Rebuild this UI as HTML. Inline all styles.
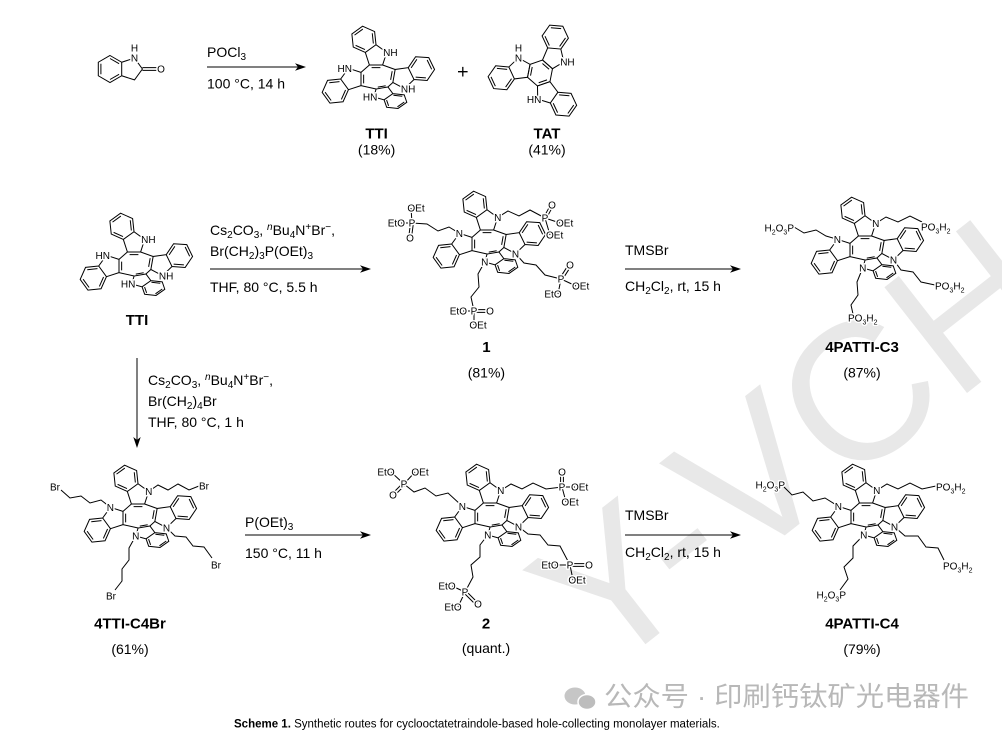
<!DOCTYPE html>
<html><head><meta charset="utf-8">
<style>
html,body{margin:0;padding:0;background:#fff;width:1002px;height:738px;overflow:hidden;}
svg{display:block;overflow:hidden;}
.t{font-family:"Liberation Sans",Arial,sans-serif;font-size:14px;fill:#000;}
.nm{font-family:"Liberation Sans",Arial,sans-serif;font-size:15px;font-weight:bold;fill:#000;}
.l{font-family:"Liberation Sans",Arial,sans-serif;font-size:10px;fill:#000;stroke:#fff;stroke-width:3px;paint-order:stroke;stroke-linejoin:round;}
.bd{stroke:#000;stroke-width:1;fill:none;}
</style></head>
<body>
<svg width="1002" height="738" viewBox="0 0 1002 738" xmlns="http://www.w3.org/2000/svg">
<defs>
<clipPath id="pg"><rect x="0" y="0" width="1002" height="738"/></clipPath>
<g id="ind">
<path vector-effect="non-scaling-stroke" stroke="#000" stroke-width="1" fill="none" d="M-6,0 L6,0 L9.71,-11.41 L0,-18.47 L-9.71,-11.41 Z M0,-18.47 L-1.26,-30.41 L-12.23,-35.29 L-21.94,-28.24 L-20.68,-16.3 L-9.71,-11.41 M-2.41,-19.54 L-3.4,-28.86 M-11.95,-32.66 L-19.53,-27.16 M-18.54,-17.85 L-9.99,-14.04 M-4,2.4 L4,2.4"/>
</g>
<g id="core">
<use href="#ind" transform="translate(0,-14) scale(1.1)"/>
<use href="#ind" transform="translate(18,-3) rotate(100) scale(1.1)"/>
<use href="#ind" transform="translate(6,9) rotate(170) scale(1,0.65)"/>
<use href="#ind" transform="translate(-15,0) rotate(270) scale(1.1)"/>
<path class="bd" d="M6.6,-14 L19.15,-9.5 M16.85,3.5 L11.9,7.96 M0.1,10.04 L-15,6.6 M-15,-6.6 L-6.6,-14"/>
</g>
</defs>

<g clip-path="url(#pg)">
<!-- watermark -->
<text x="601.4" y="678.6" transform="rotate(-38 601.4 678.6)" font-family="Liberation Sans, Arial, sans-serif" font-size="195" fill="#e8e8e8">Y-VCH</text>

<!-- ===== Row 1 ===== -->
<path class="bd" d="M110,55.5 L121.7,62.25 L121.7,75.75 L110,82.5 L98.3,75.75 L98.3,62.25 Z M110,58.5 L119.1,63.7 M119.1,74.3 L110,79.5 M100.9,74.3 L100.9,63.7 M121.7,62.25 L134.5,58.1 L142.4,69 L134.5,79.9 L121.7,75.75 M142.4,67.6 L157,67.6 M142.4,70.4 L157,70.4"/>
<text class="l" x="134.5" y="61.7" text-anchor="middle">N</text>
<text class="l" x="134.5" y="51.6" text-anchor="middle">H</text>
<text class="l" x="161" y="72.6" text-anchor="middle">O</text>

<text class="t" x="207" y="57">POCl<tspan font-size="10" baseline-shift="-3">3</tspan></text>
<line class="bd" x1="207" y1="67" x2="298" y2="67"/>
<polygon points="306,67 295,63.3 298,67 295,70.7" fill="#000"/>
<text class="t" x="207" y="88.5">100 °C, 14 h</text>

<!-- TTI row1 -->
<use href="#core" transform="translate(376,79)"/>
<text class="l" x="383.1" y="56">NH</text>
<text class="l" x="352" y="71.9" text-anchor="end">HN</text>
<text class="l" x="400.9" y="92.3">NH</text>
<text class="l" x="377.3" y="100.6" text-anchor="end">HN</text>
<text class="nm" x="376.6" y="138.5" text-anchor="middle">TTI</text>
<text class="t" x="376.6" y="154.5" text-anchor="middle">(18%)</text>

<path d="M458,71.7 L467.6,71.7 M462.8,66.9 L462.8,76.5" stroke="#000" stroke-width="1.3"/>

<!-- TAT -->
<g transform="translate(540,73)">
<path class="bd" d="M2.52,-12.96 L12.48,-4.3 L9.96,8.66 L-2.52,12.96 L-12.48,4.3 L-9.96,-8.66 Z"/>
<use href="#ind" transform="translate(7.5,-8.63) rotate(41) scale(1.1)"/>
<use href="#ind" transform="translate(3.72,10.81) rotate(161) scale(1.1)"/>
<use href="#ind" transform="translate(-11.22,-2.18) rotate(281) scale(1.1)"/>
</g>
<text class="l" x="560.2" y="65.5">NH</text>
<text class="l" x="541.3" y="102.8" text-anchor="end">HN</text>
<text class="l" x="518.5" y="61.5" text-anchor="middle">N</text>
<text class="l" x="518.5" y="51.5" text-anchor="middle">H</text>
<text class="nm" x="547" y="138.5" text-anchor="middle">TAT</text>
<text class="t" x="547" y="154.5" text-anchor="middle">(41%)</text>

<!-- ===== Row 2 ===== -->
<use href="#core" transform="translate(134,266)"/>
<text class="l" x="141.1" y="243">NH</text>
<text class="l" x="110" y="258.9" text-anchor="end">HN</text>
<text class="l" x="158.9" y="279.3">NH</text>
<text class="l" x="135.3" y="287.6" text-anchor="end">HN</text>
<text class="nm" x="137" y="325" text-anchor="middle">TTI</text>

<text class="t" x="210" y="235">Cs<tspan font-size="10" baseline-shift="-3">2</tspan>CO<tspan font-size="10" baseline-shift="-3">3</tspan>, <tspan font-size="10" font-style="italic" baseline-shift="5">n</tspan>Bu<tspan font-size="10" baseline-shift="-3">4</tspan>N<tspan font-size="10" baseline-shift="5">+</tspan>Br<tspan font-size="10" baseline-shift="5">−</tspan>,</text>
<text class="t" x="210" y="256">Br(CH<tspan font-size="10" baseline-shift="-3">2</tspan>)<tspan font-size="10" baseline-shift="-3">3</tspan>P(OEt)<tspan font-size="10" baseline-shift="-3">3</tspan></text>
<line class="bd" x1="210" y1="269" x2="363" y2="269"/>
<polygon points="371,269 360,265.3 363,269 360,272.7" fill="#000"/>
<text class="t" x="210" y="292">THF, 80 °C, 5.5 h</text>

<!-- compound 1 -->
<use href="#core" transform="translate(487,244)"/>
<path class="bd" d="M497.7,217.4 L508,211 L519,216 L530,210 L545,218 M543.8,217.3 L550.8,204.3 M546.2,218.7 L553.2,205.7 M545,218 L560,223 M545,218 L550,235"/>
<path class="bd" d="M459.4,233.3 L449,227 L438,231 L427,224 L412,223 M412,223 L401,223 M412,223 L411,208 M410.6,222.8 L408.6,237.8 M413.4,223.2 L411.4,238.2"/>
<path class="bd" d="M515.5,253.7 L524,263 L536,265 L545,275 L561,279 M559.8,278.2 L568.8,264.2 M562.2,279.8 L571.2,265.8 M561,279 L576,286 M561,279 L558,294"/>
<path class="bd" d="M484.7,262 L478,274 L479,287 L471,297 L474,311 M474,311 L463,311 M474,309.6 L489,309.6 M474,312.4 L489,312.4 M474,311 L474,325"/>
<text class="l" x="497.7" y="221" text-anchor="middle">N</text>
<text class="l" x="459.4" y="236.9" text-anchor="middle">N</text>
<text class="l" x="515.5" y="257.3" text-anchor="middle">N</text>
<text class="l" x="484.7" y="265.6" text-anchor="middle">N</text>
<text class="l" x="545" y="221.6" text-anchor="middle">P</text>
<text class="l" x="552" y="208.6" text-anchor="middle">O</text>
<text class="l" x="556" y="226.6">OEt</text>
<text class="l" x="546" y="238.6">OEt</text>
<text class="l" x="412" y="226.6" text-anchor="middle">P</text>
<text class="l" x="405" y="226.6" text-anchor="end">EtO</text>
<text class="l" x="416" y="211.6" text-anchor="middle">OEt</text>
<text class="l" x="410" y="241.6" text-anchor="middle">O</text>
<text class="l" x="561" y="282.6" text-anchor="middle">P</text>
<text class="l" x="570" y="268.6" text-anchor="middle">O</text>
<text class="l" x="572" y="289.6">OEt</text>
<text class="l" x="553" y="297.6" text-anchor="middle">EtO</text>
<text class="l" x="474" y="314.6" text-anchor="middle">P</text>
<text class="l" x="467" y="314.6" text-anchor="end">EtO</text>
<text class="l" x="490" y="314.6" text-anchor="middle">O</text>
<text class="l" x="478" y="328.6" text-anchor="middle">OEt</text>
<text class="nm" x="486.4" y="352" text-anchor="middle">1</text>
<text class="t" x="486.4" y="377.5" text-anchor="middle">(81%)</text>

<text class="t" x="625" y="255">TMSBr</text>
<line class="bd" x1="625" y1="269" x2="733" y2="269"/>
<polygon points="741,269 730,265.3 733,269 730,272.7" fill="#000"/>
<text class="t" x="625" y="291">CH<tspan font-size="10" baseline-shift="-3">2</tspan>Cl<tspan font-size="10" baseline-shift="-3">2</tspan>, rt, 15 h</text>

<!-- 4PATTI-C3 -->
<use href="#core" transform="translate(865,250)"/>
<path class="bd" d="M875.7,223.4 L886,217 L898,222 L910,216 L922,222 M837.4,239.3 L826,236 L816,230 L804,233 L794,227 M893.5,259.7 L901,270 L913,272 L921,282 L935,285 M862.7,268 L857,282 L858,295 L851,305 L853,314"/>
<text class="l" x="875.7" y="227" text-anchor="middle">N</text>
<text class="l" x="837.4" y="242.9" text-anchor="middle">N</text>
<text class="l" x="893.5" y="263.3" text-anchor="middle">N</text>
<text class="l" x="862.7" y="271.6" text-anchor="middle">N</text>
<text class="l" x="921" y="230.6">PO<tspan font-size="7" baseline-shift="-2.5">3</tspan>H<tspan font-size="7" baseline-shift="-2.5">2</tspan></text>
<text class="l" x="794" y="231.6" text-anchor="end">H<tspan font-size="7" baseline-shift="-2.5">2</tspan>O<tspan font-size="7" baseline-shift="-2.5">3</tspan>P</text>
<text class="l" x="935" y="289.6">PO<tspan font-size="7" baseline-shift="-2.5">3</tspan>H<tspan font-size="7" baseline-shift="-2.5">2</tspan></text>
<text class="l" x="848" y="321.6">PO<tspan font-size="7" baseline-shift="-2.5">3</tspan>H<tspan font-size="7" baseline-shift="-2.5">2</tspan></text>
<text class="nm" x="862" y="352" text-anchor="middle">4PATTI-C3</text>
<text class="t" x="862" y="377.5" text-anchor="middle">(87%)</text>

<!-- vertical arrow -->
<line class="bd" x1="137" y1="358" x2="137" y2="440"/>
<polygon points="137,448 133.3,437 137,440 140.7,437" fill="#000"/>
<text class="t" x="148" y="385">Cs<tspan font-size="10" baseline-shift="-3">2</tspan>CO<tspan font-size="10" baseline-shift="-3">3</tspan>, <tspan font-size="10" font-style="italic" baseline-shift="5">n</tspan>Bu<tspan font-size="10" baseline-shift="-3">4</tspan>N<tspan font-size="10" baseline-shift="5">+</tspan>Br<tspan font-size="10" baseline-shift="5">−</tspan>,</text>
<text class="t" x="148" y="406">Br(CH<tspan font-size="10" baseline-shift="-3">2</tspan>)<tspan font-size="10" baseline-shift="-3">4</tspan>Br</text>
<text class="t" x="148" y="427">THF, 80 °C, 1 h</text>

<!-- ===== Row 3 ===== -->
<!-- 4TTI-C4Br -->
<use href="#core" transform="translate(138,518)"/>
<path class="bd" d="M148.7,491.4 L158,485 L168,490 L178,484 L189,490 L199,486 M110.4,507.3 L101,500 L90,503 L81,496 L70,498 L61,490 M166.5,527.7 L175,536 L186,537 L193,546 L204,547 L212,558 M135.7,536 L129,548 L129,560 L122,569 L122,581 L115,590"/>
<text class="l" x="148.7" y="495" text-anchor="middle">N</text>
<text class="l" x="110.4" y="510.9" text-anchor="middle">N</text>
<text class="l" x="166.5" y="531.3" text-anchor="middle">N</text>
<text class="l" x="135.7" y="539.6" text-anchor="middle">N</text>
<text class="l" x="199" y="489.6">Br</text>
<text class="l" x="60" y="490.6" text-anchor="end">Br</text>
<text class="l" x="211" y="568.6">Br</text>
<text class="l" x="111" y="599.6" text-anchor="middle">Br</text>
<text class="nm" x="130" y="628.5" text-anchor="middle">4TTI-C4Br</text>
<text class="t" x="130" y="654" text-anchor="middle">(61%)</text>

<text class="t" x="245" y="527">P(OEt)<tspan font-size="10" baseline-shift="-3">3</tspan></text>
<line class="bd" x1="245" y1="535" x2="363" y2="535"/>
<polygon points="371,535 360,531.3 363,535 360,538.7" fill="#000"/>
<text class="t" x="245" y="558">150 °C, 11 h</text>

<!-- compound 2 -->
<use href="#core" transform="translate(490,517)"/>
<path class="bd" d="M500.7,490.4 L511,484 L522,489 L533,483 L546,489 L562,487 M560.6,487 L560.6,472 M563.4,487 L563.4,472 M562,487 L575,487 M562,487 L566,502"/>
<path class="bd" d="M462.4,506.3 L448,493 L436,496 L425,488 L414,492 L404,484 M404,484 L391,472 M404,484 L415,472 M405,485 L394,496 M403,483 L392,494"/>
<path class="bd" d="M518.5,526.7 L528,534 L540,535 L548,545 L560,546 L570,565 M570,565 L555,565 M570,563.6 L588,563.6 M570,566.4 L588,566.4 M570,565 L573,580"/>
<path class="bd" d="M487.7,535 L480,545 L480,557 L471,565 L473,577 L465,592 M465,592 L452,586 M465,592 L458,607 M466,591 L478,603 M464,593 L476,605"/>
<text class="l" x="500.7" y="494" text-anchor="middle">N</text>
<text class="l" x="462.4" y="509.9" text-anchor="middle">N</text>
<text class="l" x="518.5" y="530.3" text-anchor="middle">N</text>
<text class="l" x="487.7" y="538.6" text-anchor="middle">N</text>
<text class="l" x="562" y="490.6" text-anchor="middle">P</text>
<text class="l" x="562" y="475.6" text-anchor="middle">O</text>
<text class="l" x="571" y="490.6">OEt</text>
<text class="l" x="570" y="505.6" text-anchor="middle">OEt</text>
<text class="l" x="404" y="487.6" text-anchor="middle">P</text>
<text class="l" x="386" y="475.6" text-anchor="middle">EtO</text>
<text class="l" x="420" y="475.6" text-anchor="middle">OEt</text>
<text class="l" x="393" y="498.6" text-anchor="middle">O</text>
<text class="l" x="570" y="568.6" text-anchor="middle">P</text>
<text class="l" x="550" y="568.6" text-anchor="middle">EtO</text>
<text class="l" x="589" y="568.6" text-anchor="middle">O</text>
<text class="l" x="577" y="583.6" text-anchor="middle">OEt</text>
<text class="l" x="465" y="595.6" text-anchor="middle">P</text>
<text class="l" x="447" y="589.6" text-anchor="middle">EtO</text>
<text class="l" x="453" y="610.6" text-anchor="middle">EtO</text>
<text class="l" x="478" y="607.6" text-anchor="middle">O</text>
<text class="nm" x="486" y="628.5" text-anchor="middle">2</text>
<text class="t" x="486" y="653" text-anchor="middle">(quant.)</text>

<text class="t" x="625" y="520">TMSBr</text>
<line class="bd" x1="625" y1="535" x2="733" y2="535"/>
<polygon points="741,535 730,531.3 733,535 730,538.7" fill="#000"/>
<text class="t" x="625" y="557">CH<tspan font-size="10" baseline-shift="-3">2</tspan>Cl<tspan font-size="10" baseline-shift="-3">2</tspan>, rt, 15 h</text>

<!-- 4PATTI-C4 -->
<use href="#core" transform="translate(866,517)"/>
<path class="bd" d="M876.7,490.4 L887,484 L898,489 L910,483 L922,489 L936,486 M838.4,506.3 L825,498 L813,501 L803,492 L792,495 L784,487 M894.5,526.7 L905,536 L918,536 L926,547 L938,548 L944,560 M863.7,535 L853,546 L853,558 L844,567 L848,579 L840,590"/>
<text class="l" x="876.7" y="494" text-anchor="middle">N</text>
<text class="l" x="838.4" y="509.9" text-anchor="middle">N</text>
<text class="l" x="894.5" y="530.3" text-anchor="middle">N</text>
<text class="l" x="863.7" y="538.6" text-anchor="middle">N</text>
<text class="l" x="936" y="490.6">PO<tspan font-size="7" baseline-shift="-2.5">3</tspan>H<tspan font-size="7" baseline-shift="-2.5">2</tspan></text>
<text class="l" x="785" y="488.6" text-anchor="end">H<tspan font-size="7" baseline-shift="-2.5">2</tspan>O<tspan font-size="7" baseline-shift="-2.5">3</tspan>P</text>
<text class="l" x="943" y="569.6">PO<tspan font-size="7" baseline-shift="-2.5">3</tspan>H<tspan font-size="7" baseline-shift="-2.5">2</tspan></text>
<text class="l" x="846" y="598.6" text-anchor="end">H<tspan font-size="7" baseline-shift="-2.5">2</tspan>O<tspan font-size="7" baseline-shift="-2.5">3</tspan>P</text>
<text class="nm" x="862" y="628.5" text-anchor="middle">4PATTI-C4</text>
<text class="t" x="862" y="654" text-anchor="middle">(79%)</text>

<!-- wechat watermark -->
<ellipse cx="575" cy="696" rx="10.5" ry="8.5" fill="#c6c6c6"/>
<ellipse cx="587" cy="702" rx="9" ry="7.5" fill="#bdbdbd" stroke="#fff" stroke-width="1.5"/>
<text x="604" y="706" font-family="Liberation Sans, 'Noto Sans CJK SC', sans-serif" font-size="27" fill="#b8b8b8" textLength="365" lengthAdjust="spacingAndGlyphs">公众号 · 印刷钙钛矿光电器件</text>

<!-- caption -->
<text x="234" y="727.5" font-family="Liberation Sans, Arial, sans-serif" font-size="11.5" fill="#000"><tspan font-weight="bold">Scheme 1.</tspan> Synthetic routes for cyclooctatetraindole-based hole-collecting monolayer materials.</text>
</g>
</svg>
</body></html>
